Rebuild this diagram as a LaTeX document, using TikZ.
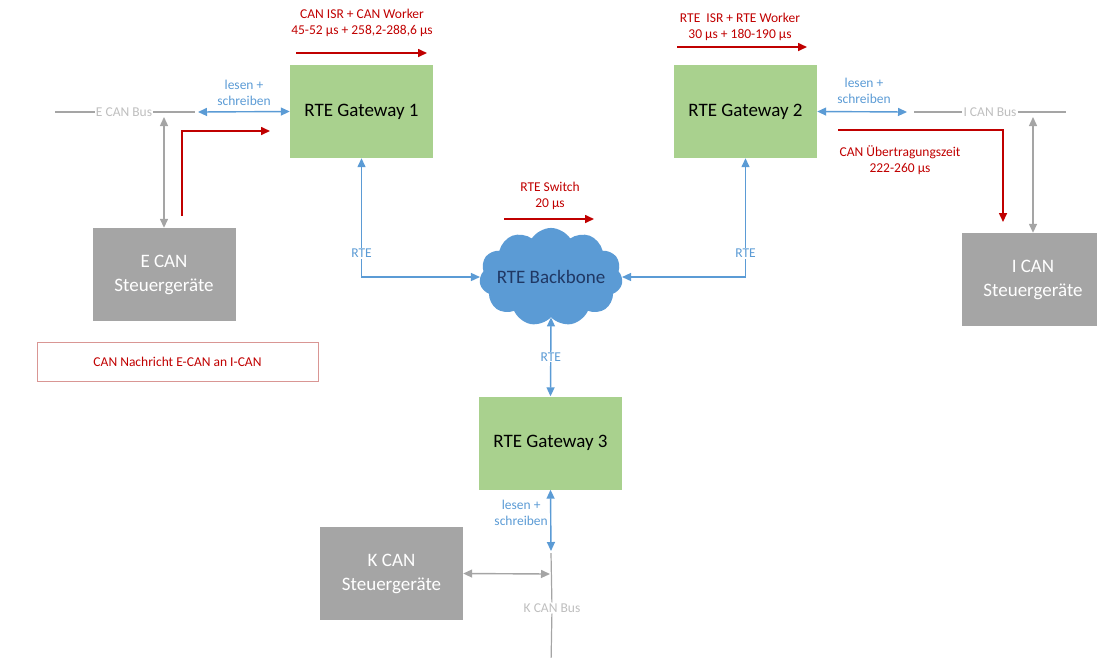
\documentclass[tikz,border=0pt]{standalone}
\usepackage{fontspec}
\setmainfont{Carlito}
\usetikzlibrary{positioning}
\usetikzlibrary{arrows.meta}
\usetikzlibrary{shapes.symbols}

\definecolor{gwgreen}{HTML}{A9D18E}
\definecolor{geraetgray}{HTML}{A5A5A5}
\definecolor{rteblue}{HTML}{5B9BD5}
\definecolor{zeitred}{HTML}{C00000}
\definecolor{busgray}{HTML}{BFBFBF}
\definecolor{cloudtext}{HTML}{203864}
\definecolor{legendred}{HTML}{D99694}

\tikzset{
  gateway/.style={fill=gwgreen, minimum width=143pt, minimum height=93pt, font=\fontsize{19}{23}\selectfont},
  geraet/.style={fill=geraetgray, text=white, align=center, minimum width=143pt, minimum height=93pt, font=\fontsize{19}{24}\selectfont},
  klein/.style={font=\fontsize{13.5}{16}\selectfont, align=center, inner sep=1pt},
  spitze/.style={arrows={-Triangle[length=9pt,width=8pt]}},
  rtelink/.style={draw=rteblue, line width=1.4pt, {Triangle[length=9pt,width=8pt]}-{Triangle[length=9pt,width=8pt]}},
  canlink/.style={draw=geraetgray, line width=1.4pt, {Triangle[length=9pt,width=8pt]}-{Triangle[length=9pt,width=8pt]}},
  zeit/.style={draw=zeitred, line width=1.6pt, spitze},
  bus/.style={draw=geraetgray, line width=1.2pt},
  buslabel/.style={klein, text=busgray, fill=white},
  bluelabel/.style={klein, text=rteblue},
  redlabel/.style={klein, text=zeitred}
}

\begin{document}
\begin{tikzpicture}[x=1pt, y=-1pt]
            \useasboundingbox (0,0) rectangle (1097,657);
            % Knoten
            \node[gateway] (gw1) at (361.5,111.5) {RTE Gateway 1};
            \node[gateway] (gw2) at (745.5,111.5) {RTE Gateway 2};
            \node[gateway] (gw3) at (550.5,443) {RTE Gateway 3};
            \node[geraet] (ecan) at (164,274.5) {E CAN\\Steuergeräte};
            \node[geraet] (ican) at (1033,279.5) {I CAN\\Steuergeräte};
            \node[geraet] (kcan) at (391.5,573.5) {K CAN\\Steuergeräte};
            \node[cloud, cloud puffs=11, cloud puff arc=115, aspect=1.7, fill=rteblue, text=cloudtext,
                  minimum width=120pt, minimum height=60pt, inner xsep=-6pt, inner ysep=-2pt,
                  font=\fontsize{19}{23}\selectfont] (backbone) at (551,277) {RTE Backbone};
            \node[draw=legendred, minimum width=281pt, minimum height=39pt, redlabel] (legende) at (177.5,361.5) {CAN Nachricht E-CAN an I-CAN};

            % Busse
            \node[buslabel] (ebus) at (124,112) {E CAN Bus};
            \coordinate (ebusL) at (55,112);
            \coordinate (ebusR) at (195,112);
            \draw[bus] (ebusL) -- (ebus) -- (ebusR);
            \node[buslabel] (ibus) at (990,112) {I CAN Bus};
            \coordinate (ibusL) at (914,112);
            \coordinate (ibusR) at (1066,112);
            \draw[bus] (ibusL) -- (ibus) -- (ibusR);
            \node[buslabel] (kbus) at (552,608) {K CAN Bus};
            \coordinate (kbusT) at (551,553);
            \coordinate (kbusB) at (551,665);
            \draw[bus] (kbusT) -- (kbus) -- (kbusB);

            % Zeiten
            \coordinate (t1a) at (296,53);
            \coordinate (t1b) at (427,53);
            \draw[zeit] (t1a) -- (t1b);
            \node[redlabel] at (362,23) {CAN ISR + CAN Worker\\45-52 µs + 258,2-288,6 µs};
            \coordinate (t2a) at (677,47);
            \coordinate (t2b) at (807,47);
            \draw[zeit] (t2a) -- (t2b);
            \node[redlabel] at (740,27) {RTE\ \ ISR + RTE Worker\\30 µs + 180-190 µs};
            \coordinate (t3a) at (504,219);
            \coordinate (t3b) at (594,219);
            \draw[zeit] (t3a) -- (t3b);
            \node[redlabel] at (550,196) {RTE Switch\\20 µs};
            \coordinate (e1) at (182,216);
            \coordinate (e2) at (182,131);
            \coordinate (e3) at (270,131);
            \draw[zeit] (e1) -- (e2) -- (e3);
            \coordinate (i1) at (838,130);
            \coordinate (i2) at (1003,222);
            \draw[zeit] (i1) -| (i2);
            \node[redlabel] at (900,160) {CAN Übertragungszeit\\222-260 µs};

            % Verbindungen
            \coordinate (ebusA) at (198,112);
            \draw[rtelink] (ebusA) -- (gw1.west);
            \node[bluelabel] at (244,93) {lesen +\\schreiben};
            \coordinate (ibusA) at (907,112);
            \draw[rtelink] (gw2.east) -- (ibusA);
            \node[bluelabel] at (864,91) {lesen +\\schreiben};
            \coordinate (ebusV) at (164,117);
            \draw[canlink] (ebusV) -- (ecan.north);
            \coordinate (ibusV) at (1033,117);
            \draw[canlink] (ibusV) -- (ican.north);
            \coordinate (kbusM) at (550,574);
            \draw[canlink] (kcan.east) -- (kbusM);
            \draw[rtelink] (gw1.south) |- node[pos=0.4, bluelabel, fill=white] {RTE} (backbone.west);
            \draw[rtelink] (gw2.south) |- node[pos=0.4, bluelabel, fill=white] {RTE} (backbone.east);
            \draw[rtelink] (backbone.south) -- node[bluelabel, fill=white] {RTE} (gw3.north);
            \coordinate (kbusA) at (551,551);
            \draw[rtelink] (gw3.south) -- (kbusA);
            \node[bluelabel, anchor=east] at (549,513) {lesen +\\schreiben};
          \end{tikzpicture}
\end{document}
